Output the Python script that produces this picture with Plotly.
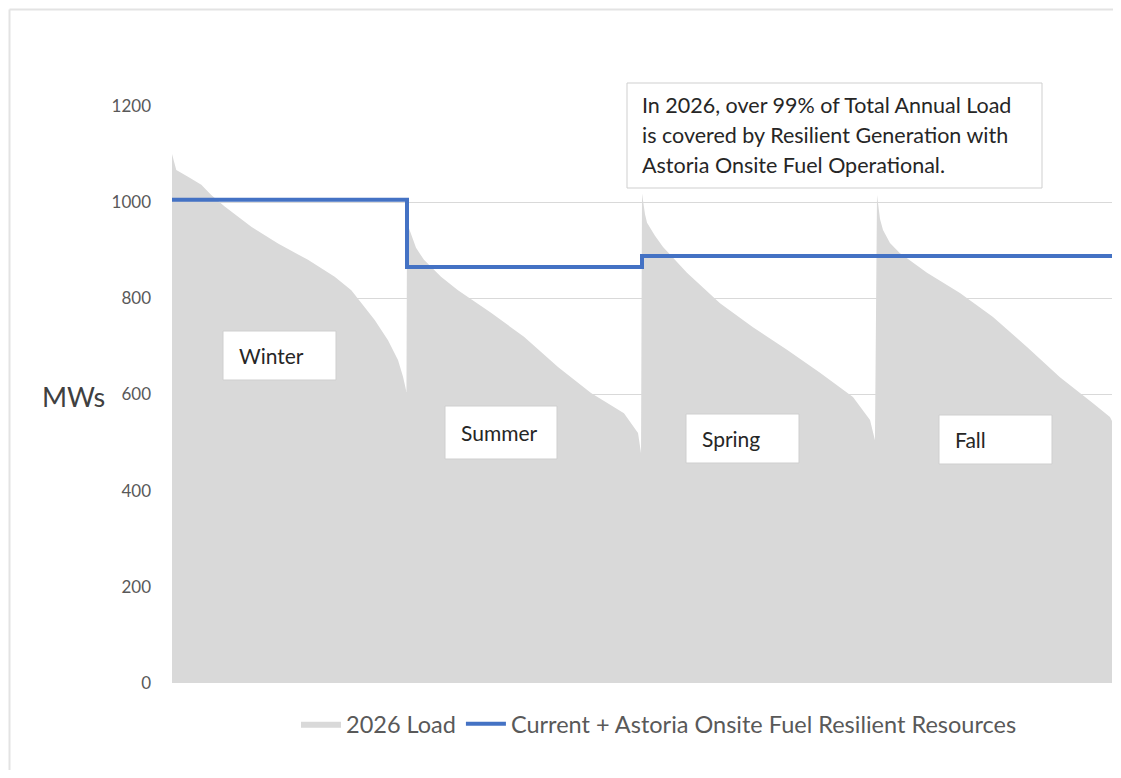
import plotly.graph_objects as go

# ---------------- data ----------------
season_names = ["Winter", "Summer", "Spring", "Fall"]
season_start_hours = [0, 2190, 4380, 6570]
year_end_hour = 8760

winter_hours = [0, 40, 149, 273, 366, 491, 739, 988, 1267, 1516, 1671, 1764, 1889, 2013, 2106, 2153, 2174, 2185]
winter_load = [1100, 1067, 1053, 1036, 1015, 991, 949, 914, 880, 845, 817, 790, 755, 713, 672, 637, 613, 605]

summer_hours = [0, 19, 84, 158, 317, 475, 783, 1090, 1407, 1715, 2022, 2153, 2181]
summer_load = [955, 945, 905, 880, 845, 817, 770, 720, 657, 603, 561, 520, 478]

spring_hours = [0, 28, 47, 121, 196, 419, 727, 1034, 1351, 1659, 1966, 2125, 2171]
spring_load = [1018, 975, 957, 930, 907, 853, 790, 740, 693, 645, 595, 547, 505]

fall_hours = [0, 28, 56, 121, 214, 466, 773, 1081, 1398, 1705, 2013, 2171, 2190]
fall_load = [1015, 965, 942, 915, 894, 853, 811, 761, 699, 636, 582, 553, 545]

resilient_mw = [1005, 865, 888, 888]

y_ticks = [0, 200, 400, 600, 800, 1000, 1200]

# ---------------- build ----------------
load_x, load_y = [], []
for start, hrs, vals in zip(season_start_hours,
                            [winter_hours, summer_hours, spring_hours, fall_hours],
                            [winter_load, summer_load, spring_load, fall_load]):
    for h, v in zip(hrs, vals):
        load_x.append(start + h)
        load_y.append(v)

step_x = season_start_hours + [year_end_hour]
step_y = resilient_mw + [resilient_mw[-1]]

FONT = "Lato, 'Open Sans', sans-serif"

fig = go.Figure()
fig.add_trace(go.Scatter(
    x=load_x, y=load_y, mode="lines", fill="tozeroy",
    fillcolor="#d9d9d9", line=dict(width=0, color="#d9d9d9"),
    name="2026 Load"))
fig.add_trace(go.Scatter(
    x=step_x, y=step_y, mode="lines", line_shape="hv",
    line=dict(color="#4472c4", width=4),
    name="Current + Astoria Onsite Fuel Resilient Resources"))

# page body has an 8px margin; work in screen pixels and shift
OFF = 8
L, R, T, B = 172 - OFF, 1112 - OFF, 106 - OFF, 683 - OFF
W, H = 1121 - 2 * OFF, 778 - 2 * OFF


def px(x):
    return (x - OFF - L) / (R - L)


def py(y):
    return (B - (y - OFF)) / (B - T)


shapes = []
annotations = []

# outer frame (top and left edges visible)
shapes.append(dict(type="line", xref="paper", yref="paper",
                   x0=px(9.5), x1=px(1121), y0=py(9.5), y1=py(9.5),
                   line=dict(color="#e3e3e3", width=2), layer="below"))
shapes.append(dict(type="line", xref="paper", yref="paper",
                   x0=px(9.5), x1=px(9.5), y0=py(9.5), y1=py(778),
                   line=dict(color="#e3e3e3", width=2), layer="below"))

# season label boxes
boxes = [(223, 336, 331, 380), (445, 557, 406, 459), (686, 799, 414, 463), (939, 1052, 415, 464)]
for name, (x0, x1, y0, y1) in zip(season_names, boxes):
    shapes.append(dict(type="rect", xref="paper", yref="paper",
                       x0=px(x0), x1=px(x1), y0=py(y1), y1=py(y0),
                       line=dict(color="#cfcfcf", width=1), fillcolor="white"))
    annotations.append(dict(xref="paper", yref="paper", x=px(x0 + 14), y=py((y0 + y1) / 2),
                            xanchor="left", yanchor="middle", showarrow=False,
                            text=name, font=dict(family=FONT, size=21, color="#262626")))

# big note box
shapes.append(dict(type="rect", xref="paper", yref="paper",
                   x0=px(627), x1=px(1042), y0=py(188), y1=py(83),
                   line=dict(color="#cfcfcf", width=1), fillcolor="white"))
note_lines = ["In 2026, over 99% of Total Annual Load",
              "is covered by Resilient Generation with",
              "Astoria Onsite Fuel Operational."]
for i, t in enumerate(note_lines):
    annotations.append(dict(xref="paper", yref="paper", x=px(640), y=py(105 + 30 * i),
                            xanchor="left", yanchor="middle", showarrow=False,
                            text=t, font=dict(family=FONT, size=21.5, color="#262626")))

# y-axis title
annotations.append(dict(xref="paper", yref="paper", x=px(40), y=py(396),
                        xanchor="left", yanchor="middle", showarrow=False,
                        text="MWs", font=dict(family=FONT, size=27, color="#404040")))

fig.update_layout(
    width=W, height=H,
    margin=dict(l=L, r=W - R, t=T, b=H - B),
    paper_bgcolor="white", plot_bgcolor="white",
    showlegend=True,
    legend=dict(orientation="h", x=px(659), xanchor="center", y=py(724), yanchor="middle",
                font=dict(family=FONT, size=23.5, color="#595959"),
                itemwidth=40, tracegroupgap=0),
    xaxis=dict(range=[0, year_end_hour], showgrid=False, zeroline=False,
               showticklabels=False, showline=False, ticks=""),
    yaxis=dict(range=[0, 1200], tickvals=y_ticks, showgrid=True, gridcolor="#d9d9d9",
               gridwidth=1, zeroline=False, showline=False, ticks="",
               ticklabelstandoff=20,
               tickfont=dict(family=FONT, size=17, color="#595959")),
    shapes=shapes,
    annotations=annotations,
)

fig.write_html("out.html")
